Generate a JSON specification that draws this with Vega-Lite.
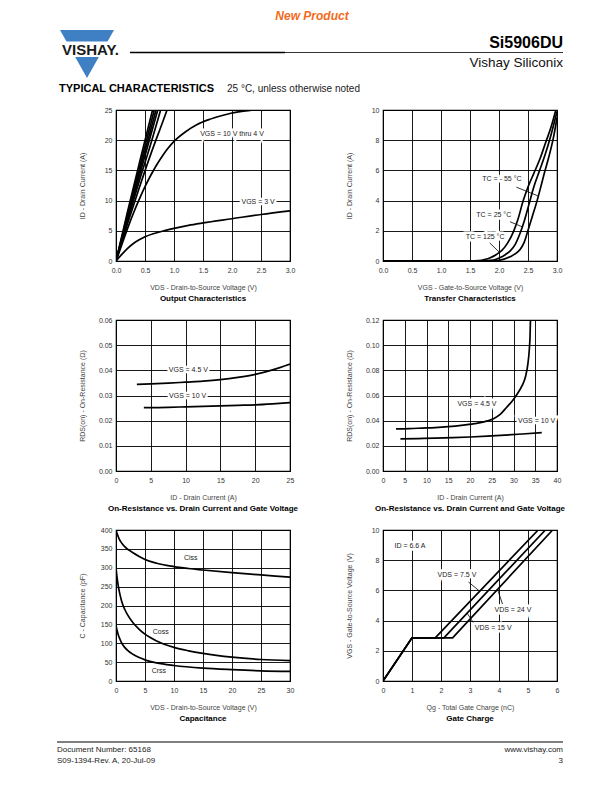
{
  "$schema": "https://vega.github.io/schema/vega-lite/v6.json",
  "background": "white",
  "padding": 0,
  "columns": 2,
  "align": "each",
  "bounds": "flush",
  "spacing": {"row": 59, "column": 93},
  "config": {
    "font": "Liberation Sans",
    "view": {"stroke": "black", "strokeWidth": 1.2},
    "axis": {"grid": true, "gridColor": "#000", "gridWidth": 0.9, "gridOpacity": 1, "domain": false, "ticks": false, "tickSize": 0,
      "labelFont": "Liberation Sans", "labelFontSize": 7, "labelColor": "#333", "labelOverlap": false, "labelFlush": false,
      "titleFont": "Liberation Sans", "titleFontSize": 7, "titleFontWeight": "normal", "titleColor": "#444"},
    "axisX": {"labelPadding": 5, "titleY": 26, "titleBaseline": "middle"},
    "axisY": {"labelPadding": 4, "titleX": -34, "titleBaseline": "middle"}
  },
  "datasets": {
    "p1": [
      {"x":0,"y":0,"s":"a"},{"x":0.2,"y":8.2,"s":"a"},{"x":0.4,"y":16.1,"s":"a"},{"x":0.63,"y":25,"s":"a"},
      {"x":0,"y":0,"s":"b"},{"x":0.2,"y":7.8,"s":"b"},{"x":0.4,"y":15.3,"s":"b"},{"x":0.66,"y":25,"s":"b"},
      {"x":0,"y":0,"s":"c"},{"x":0.2,"y":7.4,"s":"c"},{"x":0.4,"y":14.6,"s":"c"},{"x":0.69,"y":25,"s":"c"},
      {"x":0,"y":0,"s":"d"},{"x":0.2,"y":7.1,"s":"d"},{"x":0.4,"y":14.0,"s":"d"},{"x":0.72,"y":25,"s":"d"},
      {"x":0,"y":0,"s":"e"},{"x":0.2,"y":6.7,"s":"e"},{"x":0.4,"y":13.2,"s":"e"},{"x":0.6,"y":19.4,"s":"e"},{"x":0.77,"y":25,"s":"e"},
      {"x":0,"y":0,"s":"f"},{"x":0.2,"y":6.2,"s":"f"},{"x":0.4,"y":12.1,"s":"f"},{"x":0.6,"y":17.7,"s":"f"},{"x":0.8,"y":22.9,"s":"f"},{"x":0.88,"y":25,"s":"f"},
      {"x":0,"y":0,"s":"g"},{"x":0.1,"y":2.7,"s":"g"},{"x":0.2,"y":5.4,"s":"g"},{"x":0.3,"y":7.9,"s":"g"},{"x":0.4,"y":10.2,"s":"g"},{"x":0.5,"y":12.3,"s":"g"},{"x":0.6,"y":14.2,"s":"g"},{"x":0.7,"y":15.9,"s":"g"},{"x":0.8,"y":17.4,"s":"g"},{"x":0.9,"y":18.7,"s":"g"},{"x":1.0,"y":19.8,"s":"g"},{"x":1.2,"y":21.4,"s":"g"},{"x":1.4,"y":22.6,"s":"g"},{"x":1.6,"y":23.4,"s":"g"},{"x":1.8,"y":24.0,"s":"g"},{"x":2.0,"y":24.5,"s":"g"},{"x":2.2,"y":24.8,"s":"g"},{"x":2.4,"y":25.0,"s":"g"},
      {"x":0,"y":0,"s":"h"},{"x":0.1,"y":1.1,"s":"h"},{"x":0.2,"y":2.1,"s":"h"},{"x":0.3,"y":2.9,"s":"h"},{"x":0.4,"y":3.5,"s":"h"},{"x":0.5,"y":4.0,"s":"h"},{"x":0.75,"y":4.8,"s":"h"},{"x":1.0,"y":5.4,"s":"h"},{"x":1.25,"y":5.9,"s":"h"},{"x":1.5,"y":6.3,"s":"h"},{"x":2.0,"y":7.0,"s":"h"},{"x":2.5,"y":7.7,"s":"h"},{"x":3.0,"y":8.3,"s":"h"}
    ],
    "p1t": [{"x":2.0,"y":21.1,"t":"VGS = 10 V thru 4 V"},{"x":2.45,"y":9.7,"t":"VGS = 3 V"}],
    "p2": [
      {"x":0,"y":0,"s":"125"},{"x":1.5,"y":0,"s":"125"},{"x":1.65,"y":0.03,"s":"125"},{"x":1.75,"y":0.1,"s":"125"},{"x":1.85,"y":0.22,"s":"125"},{"x":1.95,"y":0.42,"s":"125"},{"x":2.05,"y":0.7,"s":"125"},{"x":2.15,"y":1.2,"s":"125"},{"x":2.25,"y":1.95,"s":"125"},{"x":2.33,"y":2.8,"s":"125"},{"x":2.41,"y":3.9,"s":"125"},{"x":2.5,"y":4.9,"s":"125"},{"x":2.6,"y":5.8,"s":"125"},{"x":2.71,"y":6.8,"s":"125"},{"x":2.8,"y":7.8,"s":"125"},{"x":2.9,"y":8.9,"s":"125"},{"x":2.98,"y":10,"s":"125"},
      {"x":0,"y":0,"s":"25"},{"x":1.7,"y":0,"s":"25"},{"x":1.85,"y":0.04,"s":"25"},{"x":1.95,"y":0.12,"s":"25"},{"x":2.05,"y":0.28,"s":"25"},{"x":2.12,"y":0.45,"s":"25"},{"x":2.19,"y":0.65,"s":"25"},{"x":2.28,"y":1.1,"s":"25"},{"x":2.36,"y":1.8,"s":"25"},{"x":2.44,"y":2.7,"s":"25"},{"x":2.52,"y":3.8,"s":"25"},{"x":2.6,"y":4.9,"s":"25"},{"x":2.7,"y":6.0,"s":"25"},{"x":2.8,"y":7.1,"s":"25"},{"x":2.9,"y":8.4,"s":"25"},{"x":3.0,"y":9.9,"s":"25"},
      {"x":0,"y":0,"s":"-55"},{"x":1.85,"y":0,"s":"-55"},{"x":2.0,"y":0.05,"s":"-55"},{"x":2.1,"y":0.14,"s":"-55"},{"x":2.2,"y":0.3,"s":"-55"},{"x":2.29,"y":0.5,"s":"-55"},{"x":2.36,"y":0.75,"s":"-55"},{"x":2.43,"y":1.2,"s":"-55"},{"x":2.49,"y":1.9,"s":"-55"},{"x":2.57,"y":2.9,"s":"-55"},{"x":2.65,"y":3.9,"s":"-55"},{"x":2.72,"y":4.9,"s":"-55"},{"x":2.78,"y":5.8,"s":"-55"},{"x":2.86,"y":6.9,"s":"-55"},{"x":2.94,"y":8.2,"s":"-55"},{"x":3.0,"y":9.5,"s":"-55"}
    ],
    "p2t": [{"x":2.05,"y":5.44,"t":"TC = - 55 °C"},{"x":1.91,"y":3.03,"t":"TC = 25 °C"},{"x":1.76,"y":1.56,"t":"TC = 125 °C"}],
    "p2r": [{"x":2.3,"y":4.89,"x2":2.68,"y2":4.3},{"x":2.19,"y":2.6,"x2":2.41,"y2":2.25},{"x":1.84,"y":1.2,"x2":2.0,"y2":0.6}],
    "p3": [
      {"x":3,"y":0.0344,"s":"45"},{"x":5,"y":0.0346,"s":"45"},{"x":7.5,"y":0.0349,"s":"45"},{"x":10,"y":0.0353,"s":"45"},{"x":12.5,"y":0.0357,"s":"45"},{"x":15,"y":0.0363,"s":"45"},{"x":17.5,"y":0.0372,"s":"45"},{"x":20,"y":0.0384,"s":"45"},{"x":22.5,"y":0.0402,"s":"45"},{"x":25,"y":0.0425,"s":"45"},
      {"x":4,"y":0.0252,"s":"10"},{"x":7.5,"y":0.0253,"s":"10"},{"x":10,"y":0.0255,"s":"10"},{"x":12.5,"y":0.0257,"s":"10"},{"x":15,"y":0.0259,"s":"10"},{"x":17.5,"y":0.0261,"s":"10"},{"x":20,"y":0.0263,"s":"10"},{"x":22.5,"y":0.0267,"s":"10"},{"x":25,"y":0.0272,"s":"10"}
    ],
    "p3t": [{"x":10.4,"y":0.04,"t":"VGS = 4.5 V"},{"x":10.3,"y":0.03,"t":"VGS = 10 V"}],
    "p4": [
      {"x":3,"y":0.0335,"s":"45"},{"x":6,"y":0.0337,"s":"45"},{"x":9,"y":0.0341,"s":"45"},{"x":12,"y":0.0345,"s":"45"},{"x":15,"y":0.0352,"s":"45"},{"x":18,"y":0.0362,"s":"45"},{"x":21,"y":0.0376,"s":"45"},{"x":24,"y":0.0398,"s":"45"},{"x":25.5,"y":0.0418,"s":"45"},{"x":27,"y":0.0452,"s":"45"},{"x":28.4,"y":0.0505,"s":"45"},{"x":29.9,"y":0.0565,"s":"45"},{"x":31,"y":0.062,"s":"45"},{"x":32,"y":0.068,"s":"45"},{"x":32.8,"y":0.0755,"s":"45"},{"x":33.3,"y":0.085,"s":"45"},{"x":33.6,"y":0.095,"s":"45"},{"x":33.8,"y":0.107,"s":"45"},{"x":33.9,"y":0.12,"s":"45"},
      {"x":4,"y":0.0255,"s":"10"},{"x":8,"y":0.0258,"s":"10"},{"x":12,"y":0.0261,"s":"10"},{"x":16,"y":0.0265,"s":"10"},{"x":20,"y":0.027,"s":"10"},{"x":24,"y":0.0277,"s":"10"},{"x":28,"y":0.0285,"s":"10"},{"x":32,"y":0.0294,"s":"10"},{"x":36.5,"y":0.0305,"s":"10"}
    ],
    "p4t": [{"x":21.6,"y":0.053,"t":"VGS = 4.5 V"},{"x":35.3,"y":0.04,"t":"VGS = 10 V"}],
    "p5": [
      {"x":0,"y":400,"s":"iss"},{"x":0.25,"y":388,"s":"iss"},{"x":0.5,"y":378,"s":"iss"},{"x":1,"y":365,"s":"iss"},{"x":1.5,"y":356,"s":"iss"},{"x":2,"y":349,"s":"iss"},{"x":2.5,"y":344,"s":"iss"},{"x":3,"y":339,"s":"iss"},{"x":4,"y":330,"s":"iss"},{"x":5,"y":322,"s":"iss"},{"x":7,"y":312,"s":"iss"},{"x":10,"y":303,"s":"iss"},{"x":12.5,"y":298,"s":"iss"},{"x":15,"y":294,"s":"iss"},{"x":20,"y":287,"s":"iss"},{"x":25,"y":281,"s":"iss"},{"x":30,"y":275,"s":"iss"},
      {"x":0,"y":300,"s":"oss"},{"x":0.2,"y":272,"s":"oss"},{"x":0.4,"y":251,"s":"oss"},{"x":0.7,"y":228,"s":"oss"},{"x":1,"y":210,"s":"oss"},{"x":1.5,"y":190,"s":"oss"},{"x":2,"y":175,"s":"oss"},{"x":3,"y":153,"s":"oss"},{"x":4,"y":137,"s":"oss"},{"x":5,"y":124,"s":"oss"},{"x":7,"y":106,"s":"oss"},{"x":10,"y":89,"s":"oss"},{"x":12.5,"y":80,"s":"oss"},{"x":15,"y":73,"s":"oss"},{"x":20,"y":63,"s":"oss"},{"x":25,"y":57,"s":"oss"},{"x":30,"y":54,"s":"oss"},
      {"x":0,"y":147,"s":"rss"},{"x":0.2,"y":133,"s":"rss"},{"x":0.4,"y":122,"s":"rss"},{"x":0.7,"y":110,"s":"rss"},{"x":1,"y":100,"s":"rss"},{"x":1.5,"y":89,"s":"rss"},{"x":2,"y":81,"s":"rss"},{"x":3,"y":70,"s":"rss"},{"x":4,"y":62,"s":"rss"},{"x":5,"y":56,"s":"rss"},{"x":7,"y":48,"s":"rss"},{"x":10,"y":41,"s":"rss"},{"x":15,"y":34,"s":"rss"},{"x":20,"y":30,"s":"rss"},{"x":25,"y":27,"s":"rss"},{"x":30,"y":25.5,"s":"rss"}
    ],
    "p5t": [{"x":12.9,"y":327,"t":"Ciss"},{"x":7.7,"y":129,"t":"Coss"},{"x":7.4,"y":25.5,"t":"Crss"}],
    "p6": [
      {"x":0,"y":0,"s":"7.5"},{"x":1.0,"y":2.86,"s":"7.5"},{"x":1.8,"y":2.86,"s":"7.5"},{"x":5.35,"y":10,"s":"7.5"},
      {"x":0,"y":0,"s":"15"},{"x":1.0,"y":2.86,"s":"15"},{"x":2.1,"y":2.86,"s":"15"},{"x":5.6,"y":10,"s":"15"},
      {"x":0,"y":0,"s":"24"},{"x":1.0,"y":2.86,"s":"24"},{"x":2.4,"y":2.86,"s":"24"},{"x":5.85,"y":10,"s":"24"}
    ],
    "p6t": [{"x":0.93,"y":8.95,"t":"ID = 6.6 A"},{"x":2.55,"y":7.0,"t":"VDS = 7.5 V"},{"x":4.48,"y":4.72,"t":"VDS = 24 V"},{"x":3.8,"y":3.5,"t":"VDS = 15 V"}],
    "p6r": [{"x":2.95,"y":6.55,"x2":3.33,"y2":5.95},{"x":3.95,"y":6.07,"x2":4.12,"y2":5.1},{"x":2.9,"y":4.5,"x2":3.15,"y2":3.75}]
  },
  "concat": [
    {
      "width": 174, "height": 51, "view": {"stroke": null},
      "encoding": {
        "x": {"field": "x", "type": "quantitative", "scale": {"domain": [116, 290], "nice": false, "zero": false}, "axis": null},
        "y": {"field": "y", "type": "quantitative", "scale": {"domain": [51, 0], "nice": false, "zero": false}, "axis": null}
      },
      "layer": [
        {"data": {"values": [{"x": 0, "y": 0, "x2": 612, "y2": 51}]}, "mark": {"type": "rect", "fill": "white"}, "encoding": {"x2": {"field": "x2"}, "y2": {"field": "y2"}}},
        {"data": {"values": [{"x": 87, "y": 54}]}, "mark": {"type": "point", "shape": "M-1,-0.89L1,-0.89L0,0.89Z", "size": 2916, "filled": true, "fill": "#3f80c4", "opacity": 1, "strokeWidth": 0}},
        {"data": {"values": [{"x": 55, "y": 41.5, "x2": 127, "y2": 57}]}, "mark": {"type": "rect", "fill": "white"}, "encoding": {"x2": {"field": "x2"}, "y2": {"field": "y2"}}},
        {"data": {"values": [{"x": 90.5, "y": 49.5, "t": "VISHAY."}]}, "mark": {"type": "text", "fontSize": 15, "fontWeight": "bold", "align": "center", "baseline": "middle", "color": "#1a1a1a"}, "encoding": {"text": {"field": "t"}}},
        {"data": {"values": [{"x": 312, "y": 16, "t": "New Product"}]}, "mark": {"type": "text", "fontSize": 12, "fontWeight": "bold", "fontStyle": "italic", "align": "center", "baseline": "middle", "color": "#f26a21"}, "encoding": {"text": {"field": "t"}}},
        {"data": {"values": [{"x": 130, "y": 52.5, "x2": 563}]}, "mark": {"type": "rule", "color": "#333", "strokeWidth": 1}, "encoding": {"x2": {"field": "x2"}}},
        {"data": {"values": [{"x": 130, "y": 52.5, "x2": 285}]}, "mark": {"type": "rule", "color": "#000", "strokeWidth": 1.6}, "encoding": {"x2": {"field": "x2"}}},
        {"data": {"values": [{"x": 59, "y": 89, "t": "TYPICAL CHARACTERISTICS"}]}, "mark": {"type": "text", "fontSize": 11, "fontWeight": "bold", "align": "left", "baseline": "middle", "color": "#000"}, "encoding": {"text": {"field": "t"}}},
        {"data": {"values": [{"x": 227, "y": 89, "t": "25 °C, unless otherwise noted"}]}, "mark": {"type": "text", "fontSize": 10, "align": "left", "baseline": "middle", "color": "#222"}, "encoding": {"text": {"field": "t"}}}
      ]
    },
    {
      "width": 174, "height": 51, "view": {"stroke": null},
      "encoding": {
        "x": {"field": "x", "type": "quantitative", "scale": {"domain": [383, 557], "nice": false, "zero": false}, "axis": null},
        "y": {"field": "y", "type": "quantitative", "scale": {"domain": [51, 0], "nice": false, "zero": false}, "axis": null}
      },
      "layer": [
        {"data": {"values": [{"x": 563, "y": 48.3, "t": "Si5906DU"}]}, "mark": {"type": "text", "fontSize": 16, "fontWeight": "bold", "align": "right", "baseline": "alphabetic", "color": "#000"}, "encoding": {"text": {"field": "t"}}},
        {"data": {"values": [{"x": 563, "y": 67, "t": "Vishay Siliconix"}]}, "mark": {"type": "text", "fontSize": 13.5, "align": "right", "baseline": "alphabetic", "color": "#111"}, "encoding": {"text": {"field": "t"}}}
      ]
    },
    {
      "width": 174, "height": 151,
      "title": {"text": "Output Characteristics", "orient": "bottom", "frame": "group", "anchor": "middle", "offset": 5, "fontSize": 8, "fontWeight": "bold", "color": "black", "font": "Liberation Sans"},
      "encoding": {
        "x": {"field": "x", "type": "quantitative", "scale": {"domain": [0, 3], "nice": false, "zero": false}, "axis": {"values": [0, 0.5, 1, 1.5, 2, 2.5, 3], "format": ".1f", "title": "VDS - Drain-to-Source Voltage (V)"}},
        "y": {"field": "y", "type": "quantitative", "scale": {"domain": [0, 25], "nice": false, "zero": false}, "axis": {"values": [0, 5, 10, 15, 20, 25], "title": "ID - Drain Current (A)"}}
      },
      "layer": [
        {"data": {"name": "p1"}, "mark": {"type": "line", "color": "black", "strokeWidth": 1.7, "clip": true, "interpolate": "monotone"}, "encoding": {"detail": {"field": "s"}}},
        {"data": {"name": "p1t"}, "mark": {"type": "text", "fontSize": 7, "stroke": "white", "strokeWidth": 5, "fill": "white"}, "encoding": {"text": {"field": "t"}}},
        {"data": {"name": "p1t"}, "mark": {"type": "text", "fontSize": 7, "color": "#222"}, "encoding": {"text": {"field": "t"}}}
      ]
    },
    {
      "width": 174, "height": 151,
      "title": {"text": "Transfer Characteristics", "orient": "bottom", "frame": "group", "anchor": "middle", "offset": 5, "fontSize": 8, "fontWeight": "bold", "color": "black", "font": "Liberation Sans"},
      "encoding": {
        "x": {"field": "x", "type": "quantitative", "scale": {"domain": [0, 3], "nice": false, "zero": false}, "axis": {"values": [0, 0.5, 1, 1.5, 2, 2.5, 3], "format": ".1f", "title": "VGS - Gate-to-Source Voltage (V)"}},
        "y": {"field": "y", "type": "quantitative", "scale": {"domain": [0, 10], "nice": false, "zero": false}, "axis": {"values": [0, 2, 4, 6, 8, 10], "title": "ID - Drain Current (A)"}}
      },
      "layer": [
        {"data": {"name": "p2"}, "mark": {"type": "line", "color": "black", "strokeWidth": 1.7, "clip": true, "interpolate": "monotone"}, "encoding": {"detail": {"field": "s"}}},
        {"data": {"name": "p2r"}, "mark": {"type": "rule", "color": "black", "strokeWidth": 0.8}, "encoding": {"x2": {"field": "x2"}, "y2": {"field": "y2"}}},
        {"data": {"name": "p2t"}, "mark": {"type": "text", "fontSize": 7, "stroke": "white", "strokeWidth": 5, "fill": "white"}, "encoding": {"text": {"field": "t"}}},
        {"data": {"name": "p2t"}, "mark": {"type": "text", "fontSize": 7, "color": "#222"}, "encoding": {"text": {"field": "t"}}}
      ]
    },
    {
      "width": 174, "height": 151,
      "title": {"text": "On-Resistance vs. Drain Current and Gate Voltage", "orient": "bottom", "frame": "group", "anchor": "middle", "offset": 5, "fontSize": 8, "fontWeight": "bold", "color": "black", "font": "Liberation Sans"},
      "encoding": {
        "x": {"field": "x", "type": "quantitative", "scale": {"domain": [0, 25], "nice": false, "zero": false}, "axis": {"values": [0, 5, 10, 15, 20, 25], "title": "ID - Drain Current (A)"}},
        "y": {"field": "y", "type": "quantitative", "scale": {"domain": [0, 0.06], "nice": false, "zero": false}, "axis": {"values": [0, 0.01, 0.02, 0.03, 0.04, 0.05, 0.06], "format": ".2f", "title": "RDS(on) - On-Resistance (Ω)"}}
      },
      "layer": [
        {"data": {"name": "p3"}, "mark": {"type": "line", "color": "black", "strokeWidth": 1.7, "clip": true, "interpolate": "monotone"}, "encoding": {"detail": {"field": "s"}}},
        {"data": {"name": "p3t"}, "mark": {"type": "text", "fontSize": 7, "stroke": "white", "strokeWidth": 5, "fill": "white"}, "encoding": {"text": {"field": "t"}}},
        {"data": {"name": "p3t"}, "mark": {"type": "text", "fontSize": 7, "color": "#222"}, "encoding": {"text": {"field": "t"}}}
      ]
    },
    {
      "width": 174, "height": 151,
      "title": {"text": "On-Resistance vs. Drain Current and Gate Voltage", "orient": "bottom", "frame": "group", "anchor": "middle", "offset": 5, "fontSize": 8, "fontWeight": "bold", "color": "black", "font": "Liberation Sans"},
      "encoding": {
        "x": {"field": "x", "type": "quantitative", "scale": {"domain": [0, 40], "nice": false, "zero": false}, "axis": {"values": [0, 5, 10, 15, 20, 25, 30, 35, 40], "title": "ID - Drain Current (A)"}},
        "y": {"field": "y", "type": "quantitative", "scale": {"domain": [0, 0.12], "nice": false, "zero": false}, "axis": {"values": [0, 0.02, 0.04, 0.06, 0.08, 0.1, 0.12], "format": ".2f", "title": "RDS(on) - On-Resistance (Ω)"}}
      },
      "layer": [
        {"data": {"name": "p4"}, "mark": {"type": "line", "color": "black", "strokeWidth": 1.7, "clip": true, "interpolate": "monotone"}, "encoding": {"detail": {"field": "s"}}},
        {"data": {"name": "p4t"}, "mark": {"type": "text", "fontSize": 7, "stroke": "white", "strokeWidth": 5, "fill": "white"}, "encoding": {"text": {"field": "t"}}},
        {"data": {"name": "p4t"}, "mark": {"type": "text", "fontSize": 7, "color": "#222"}, "encoding": {"text": {"field": "t"}}}
      ]
    },
    {
      "width": 174, "height": 151,
      "title": {"text": "Capacitance", "orient": "bottom", "frame": "group", "anchor": "middle", "offset": 5, "fontSize": 8, "fontWeight": "bold", "color": "black", "font": "Liberation Sans"},
      "encoding": {
        "x": {"field": "x", "type": "quantitative", "scale": {"domain": [0, 30], "nice": false, "zero": false}, "axis": {"values": [0, 5, 10, 15, 20, 25, 30], "title": "VDS - Drain-to-Source Voltage (V)"}},
        "y": {"field": "y", "type": "quantitative", "scale": {"domain": [0, 400], "nice": false, "zero": false}, "axis": {"values": [0, 50, 100, 150, 200, 250, 300, 350, 400], "title": "C - Capacitance (pF)"}}
      },
      "layer": [
        {"data": {"name": "p5"}, "mark": {"type": "line", "color": "black", "strokeWidth": 1.7, "clip": true, "interpolate": "monotone"}, "encoding": {"detail": {"field": "s"}}},
        {"data": {"name": "p5t"}, "mark": {"type": "text", "fontSize": 7, "stroke": "white", "strokeWidth": 5, "fill": "white"}, "encoding": {"text": {"field": "t"}}},
        {"data": {"name": "p5t"}, "mark": {"type": "text", "fontSize": 7, "color": "#222"}, "encoding": {"text": {"field": "t"}}}
      ]
    },
    {
      "width": 174, "height": 151,
      "title": {"text": "Gate Charge", "orient": "bottom", "frame": "group", "anchor": "middle", "offset": 5, "fontSize": 8, "fontWeight": "bold", "color": "black", "font": "Liberation Sans"},
      "encoding": {
        "x": {"field": "x", "type": "quantitative", "scale": {"domain": [0, 6], "nice": false, "zero": false}, "axis": {"values": [0, 1, 2, 3, 4, 5, 6], "title": "Qg - Total Gate Charge (nC)"}},
        "y": {"field": "y", "type": "quantitative", "scale": {"domain": [0, 10], "nice": false, "zero": false}, "axis": {"values": [0, 2, 4, 6, 8, 10], "title": "VGS - Gate-to-Source Voltage (V)"}}
      },
      "layer": [
        {"data": {"name": "p6"}, "mark": {"type": "line", "color": "black", "strokeWidth": 1.7, "clip": true}, "encoding": {"detail": {"field": "s"}}},
        {"data": {"name": "p6r"}, "mark": {"type": "rule", "color": "black", "strokeWidth": 0.8}, "encoding": {"x2": {"field": "x2"}, "y2": {"field": "y2"}}},
        {"data": {"name": "p6t"}, "mark": {"type": "text", "fontSize": 7, "stroke": "white", "strokeWidth": 5, "fill": "white"}, "encoding": {"text": {"field": "t"}}},
        {"data": {"name": "p6t"}, "mark": {"type": "text", "fontSize": 7, "color": "#222"}, "encoding": {"text": {"field": "t"}}}
      ]
    },
    {
      "width": 174, "height": 40, "view": {"stroke": null},
      "encoding": {
        "x": {"field": "x", "type": "quantitative", "scale": {"domain": [116, 290], "nice": false, "zero": false}, "axis": null},
        "y": {"field": "y", "type": "quantitative", "scale": {"domain": [780, 740], "nice": false, "zero": false}, "axis": null}
      },
      "layer": [
        {"data": {"values": [{"x": 57, "y": 742, "x2": 563}]}, "mark": {"type": "rule", "color": "black", "strokeWidth": 1}, "encoding": {"x2": {"field": "x2"}}},
        {"data": {"values": [{"x": 57, "y": 750, "t": "Document Number: 65168"}, {"x": 57, "y": 760.5, "t": "S09-1394-Rev. A, 20-Jul-09"}]}, "mark": {"type": "text", "align": "left", "baseline": "middle", "fontSize": 8, "color": "#222"}, "encoding": {"text": {"field": "t"}}},
        {"data": {"values": [{"x": 563, "y": 750, "t": "www.vishay.com"}, {"x": 563, "y": 760.5, "t": "3"}]}, "mark": {"type": "text", "align": "right", "baseline": "middle", "fontSize": 8, "color": "#222"}, "encoding": {"text": {"field": "t"}}}
      ]
    }
  ]
}
